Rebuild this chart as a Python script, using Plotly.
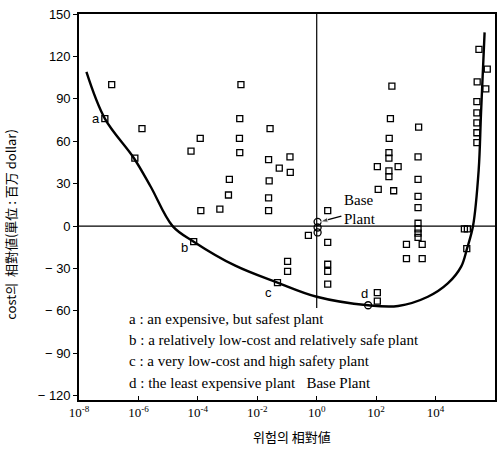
import plotly.graph_objects as go

# ---- data ----
# scatter plants: log10(relative risk), relative cost (million dollar)
sq_logx = [-6.90, -7.13, -5.88, -6.12, -3.92, -4.23, -2.55, -2.59, -2.60, -2.59,
           -2.94, -2.97, -3.90, -3.26, -1.57, -1.62, -1.26, -0.90, -0.89, -1.60,
           -1.62, -1.62, -4.14, -1.32, -0.98, -0.98, -0.28, 0.37, 0.37, 0.37,
           0.37, 0.37, 2.04, 2.04, 2.53, 2.48, 2.44, 2.43, 2.43, 2.43,
           2.43, 2.04, 2.74, 2.07, 2.59, 3.43, 3.41, 3.41, 3.41, 3.41,
           3.41, 3.41, 3.41, 3.41, 3.02, 3.55, 3.02, 3.55, 4.97, 5.07,
           5.05, 5.46, 5.74, 5.40, 5.69, 5.39, 5.39, 5.39, 5.39, 5.39]
sq_y = [100, 76, 69, 48, 62, 53, 100, 76, 62, 52,
        33, 22, 11, 12, 69, 47, 41, 49, 38, 32,
        20, 11, -11, -40, -25, -32, -6.5, 11, -11.5, -27,
        -32, -41, -47, -53, 99, 76, 62, 52, 48, 39,
        35, 42, 42, 26, 25, 70, 49, 33, 21, 13,
        2, -2, -5, -8, -13, -13, -23, -23, -2, -2,
        -16, 125, 111, 102, 97, 88, 80, 73, 66, 59]

# circle markers: base plant stack and plant d
ci_logx = [0.03, 0.03, 0.03, 1.73]
ci_y = [3, -1, -4.5, -56]

# trade-off curve
curve_logx = [-7.75, -7.13, -6.15, -5.59, -4.85, -4.14, -2.74, -1.32, 0.0, 1.73,
              2.74, 3.74, 4.42, 4.86, 5.06, 5.26, 5.45, 5.53, 5.65]
curve_y = [109, 76, 48, 28, 0, -11, -28, -40, -50, -56,
           -56.5, -50, -40.4, -28.7, -15.8, 0, 39.5, 80, 137]

# point labels
lab_text = ["a", "b", "c", "d"]
lab_logx = [-7.42, -4.45, -1.62, 1.62]
lab_y = [76, -15, -47, -48]

legend_lines = [
    "a : an expensive, but safest plant",
    "b : a relatively low-cost and relatively safe plant",
    "c : a very low-cost and high safety plant",
    "d : the least expensive plant   Base Plant",
]
legend_y = [-65.6, -80.5, -95.3, -110.8]

# "Base Plant" pointer: tail and head (log10 x, y)
arrow_logx = [0.83, 0.12]
arrow_y = [7.1, 3]

x_tick_exp = [-8, -6, -4, -2, 0, 2, 4, 6]
y_ticks = [150, 120, 90, 60, 30, 0, -30, -60, -90, -120]

x_title = "위험의 相對値"
y_title = "cost의  相對値(單位 : 百万 dollar)"

# ---- figure ----
sq_x = [10 ** v for v in sq_logx]
ci_x = [10 ** v for v in ci_logx]
curve_x = [10 ** v for v in curve_logx]
arrow_x = [10 ** v for v in arrow_logx]

fig = go.Figure()
# reference lines
fig.add_trace(go.Scatter(x=[1e-8, 1e6], y=[0, 0], mode="lines",
                         line=dict(color="black", width=1.2), hoverinfo="skip"))
fig.add_trace(go.Scatter(x=[1, 1], y=[150, -58], mode="lines",
                         line=dict(color="black", width=1.2), hoverinfo="skip"))
fig.add_trace(go.Scatter(x=curve_x, y=curve_y, mode="lines",
                         line=dict(color="black", width=2.4, shape="spline", smoothing=1.0),
                         hoverinfo="skip"))
fig.add_trace(go.Scatter(x=sq_x, y=sq_y, mode="markers",
                         marker=dict(symbol="square-open", size=6, color="black",
                                     line=dict(width=1.3, color="black"))))
fig.add_trace(go.Scatter(x=ci_x, y=ci_y, mode="markers",
                         marker=dict(symbol="circle-open", size=7, color="black",
                                     line=dict(width=1.3, color="black"))))
fig.add_trace(go.Scatter(x=arrow_x, y=arrow_y, mode="lines+markers",
                         line=dict(color="black", width=1.3),
                         marker=dict(symbol="arrow", size=[0, 8], angleref="previous",
                                     color="black"),
                         hoverinfo="skip"))

annotations = []
for t, lx, ly in zip(lab_text, lab_logx, lab_y):
    annotations.append(dict(x=lx, y=ly, xref="x", yref="y", text=t, showarrow=False,
                            font=dict(family="Liberation Sans", size=13, color="black"),
                            xanchor="center", yanchor="middle"))
for t, ly in zip(legend_lines, legend_y):
    annotations.append(dict(x=-6.39, y=ly, xref="x", yref="y", text=t, showarrow=False,
                            font=dict(family="Liberation Serif", size=15, color="black"),
                            xanchor="left", yanchor="middle"))
annotations.append(dict(x=0.85, y=18.4, xref="x", yref="y", text="Base", showarrow=False,
                        font=dict(family="Liberation Serif", size=15, color="black"),
                        xanchor="left", yanchor="middle"))
annotations.append(dict(x=0.85, y=5, xref="x", yref="y", text="Plant", showarrow=False,
                        font=dict(family="Liberation Serif", size=15, color="black"),
                        xanchor="left", yanchor="middle"))
annotations.append(dict(x=0.512, y=-0.095, xref="paper", yref="paper", text=x_title,
                        showarrow=False, xanchor="center", yanchor="middle",
                        font=dict(family="Noto Sans CJK KR", size=13, color="black")))
annotations.append(dict(x=-0.165, y=0.455, xref="paper", yref="paper", text=y_title,
                        showarrow=False, textangle=-90, xanchor="center", yanchor="middle",
                        font=dict(family="Noto Sans CJK KR", size=13, color="black")))

fig.update_layout(
    width=504, height=451,
    margin=dict(l=79, r=7, t=11, b=51),
    paper_bgcolor="white", plot_bgcolor="white",
    showlegend=False,
    annotations=annotations,
    xaxis=dict(type="log", range=[-8, 6], showgrid=False, zeroline=False,
               showline=True, linecolor="black", linewidth=1.6, mirror=True,
               tickvals=[10 ** e for e in x_tick_exp],
               ticktext=["10<sup>%d</sup>" % e for e in x_tick_exp],
               ticks="inside", ticklen=4, tickcolor="black",
               tickfont=dict(family="Liberation Serif", size=13, color="black")),
    yaxis=dict(range=[-123, 150], showgrid=False, zeroline=False,
               showline=True, linecolor="black", linewidth=1.6, mirror=True,
               tickvals=y_ticks,
               ticktext=[str(v).replace("-", "\u2212 ") for v in y_ticks],
               ticks="outside", ticklen=4, tickcolor="black",
               tickfont=dict(family="Liberation Sans Narrow, Liberation Sans", size=13,
                             color="black")),
)

fig.write_html("out.html")
